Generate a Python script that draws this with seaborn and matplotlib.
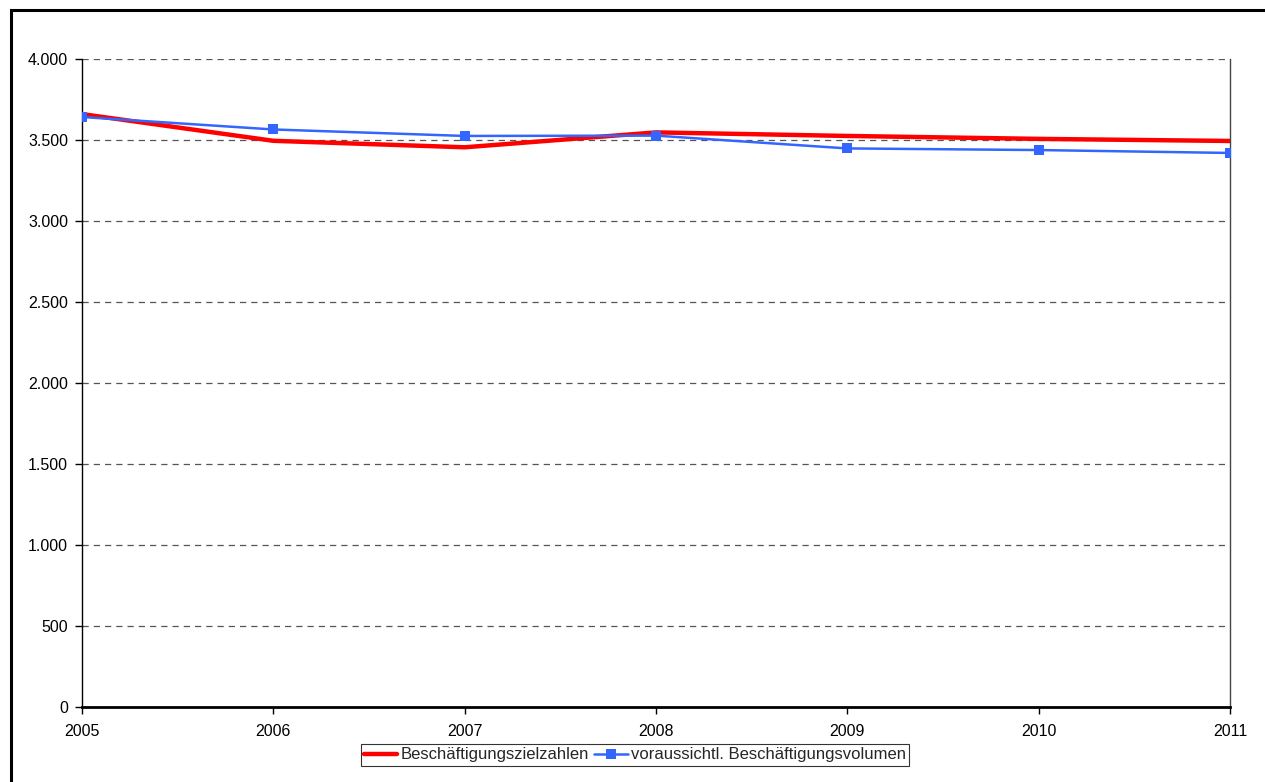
import matplotlib
matplotlib.use("Agg")
import matplotlib.pyplot as plt
from matplotlib.patches import Rectangle
from matplotlib.ticker import FuncFormatter
import seaborn as sns
import pandas as pd

years = [2005, 2006, 2007, 2008, 2009, 2010, 2011]
zielzahlen = [3660, 3495, 3455, 3547, 3525, 3507, 3494]
volumen = [3642, 3565, 3525, 3527, 3448, 3438, 3420]
series_names = ["Beschäftigungszielzahlen", "voraussichtl. Beschäftigungsvolumen"]

sns.set_theme(style="white")
plt.rcParams["font.family"] = ["Liberation Sans", "DejaVu Sans"]

df = pd.DataFrame({
    "Jahr": years * 2,
    "Wert": zielzahlen + volumen,
    "Reihe": [series_names[0]] * len(years) + [series_names[1]] * len(years),
})

W, H = 1265, 782
fig = plt.figure(figsize=(W / 100, H / 100), dpi=100)
fig.patch.set_facecolor("white")

# outer chart frame
fig.add_artist(Rectangle((11 / W, -0.05), 1.1, 1.05 - 10 / H, transform=fig.transFigure,
                         fill=False, edgecolor="black", linewidth=2.2, clip_on=False))

ax = fig.add_axes([82 / W, (H - 707) / H, (1230 - 82) / W, (707 - 59) / H])

sns.lineplot(data=df[df["Reihe"] == series_names[0]], x="Jahr", y="Wert", ax=ax,
             color="#ff0000", linewidth=3.2, label=series_names[0], zorder=3)
sns.lineplot(data=df[df["Reihe"] == series_names[1]], x="Jahr", y="Wert", ax=ax,
             color="#3366ff", linewidth=1.8, marker="s", markersize=6.5,
             markeredgewidth=0, label=series_names[1], zorder=4)

ax.set_xlim(2005, 2011)
ax.set_ylim(0, 4000)
ax.set_xticks(years)
ax.set_yticks(range(0, 4001, 500))
ax.yaxis.set_major_formatter(FuncFormatter(lambda v, p: f"{int(v):,}".replace(",", ".")))
ax.set_xlabel("")
ax.set_ylabel("")

for v in range(500, 4001, 500):
    ax.axhline(v, color="#555555", linestyle=(0, (5, 4)), linewidth=0.9, zorder=1)

ax.spines["top"].set_visible(False)
ax.spines["left"].set_color("black")
ax.spines["left"].set_linewidth(1.0)
ax.spines["bottom"].set_color("black")
ax.spines["bottom"].set_linewidth(2.0)
ax.spines["right"].set_color("#444444")
ax.spines["right"].set_linewidth(1.0)

ax.tick_params(axis="both", which="major", direction="out", length=5, width=1,
               color="black", labelsize=11.5, labelcolor="black", pad=5,
               left=True, bottom=True)
ax.tick_params(axis="x", pad=7)

ax.get_legend().remove()
handles, labels = ax.get_legend_handles_labels()
leg = fig.legend(handles, labels, loc="center", bbox_to_anchor=(635 / W, (H - 755) / H),
                 ncol=2, frameon=True, fancybox=False, fontsize=12, handlelength=2.0,
                 handletextpad=0.2, columnspacing=0.3, borderpad=0.2,
                 borderaxespad=0)
leg.get_frame().set_edgecolor("black")
leg.get_frame().set_linewidth(0.8)

fig.savefig("out.png", dpi=100, facecolor="white")
